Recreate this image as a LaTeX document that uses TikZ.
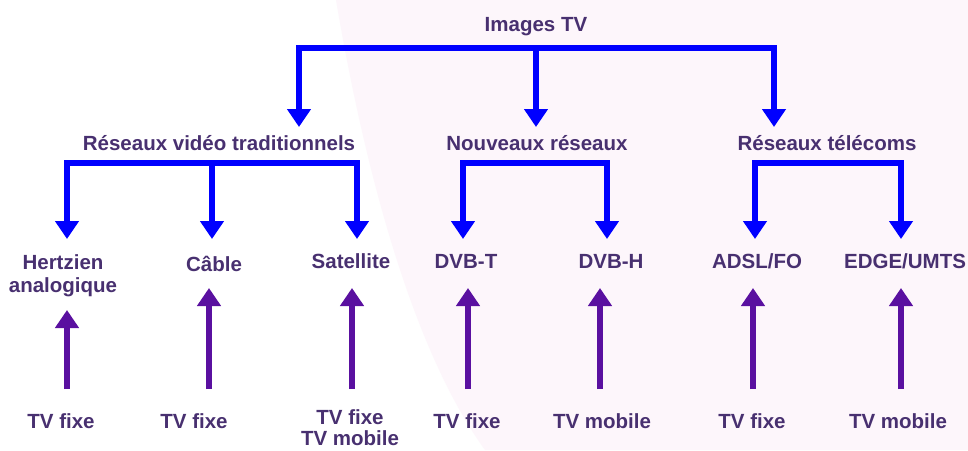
\documentclass[tikz,border=0pt]{standalone}
\usepackage{fontspec}
\setmainfont{Liberation Sans}
\usetikzlibrary{arrows.meta}
\definecolor{txt}{RGB}{72,48,112}
\definecolor{barblue}{RGB}{0,0,255}
\definecolor{upviolet}{RGB}{90,16,160}
\definecolor{bgpink}{RGB}{253,246,251}
\begin{document}
\begin{tikzpicture}[x=1pt,y=-1pt,
  lbl/.style={font=\bfseries\fontsize{20.5}{23}\selectfont, text=txt, align=center, inner sep=0pt, anchor=base},
  tree/.style={draw=barblue, line width=6pt, -{Triangle[width=23pt,length=18pt]}},
  feed/.style={draw=upviolet, line width=6pt, -{Triangle[width=23pt,length=18pt]}}]
\useasboundingbox (0,0) rectangle (968,450);
% background
\fill[white] (0,0) rectangle (968,450);
\fill[bgpink] (336,0) .. controls (370,200) and (420,360) .. (485,450) -- (968,450) -- (968,0) -- cycle;

% level 1
\node[lbl] (img) at (536,31) {Images TV};
% level 2
\node[lbl] (trad) at (219,150) {Réseaux vidéo traditionnels};
\node[lbl] (nouv) at (537,150) {Nouveaux réseaux};
\node[lbl] (tele) at (827,150) {Réseaux télécoms};
% level 3
\node[lbl,anchor=center] (hertz) at (63,276) {Hertzien\\analogique};
\node[lbl] (cable) at (214,271) {Câble};
\node[lbl] (sat) at (351,268) {Satellite};
\node[lbl] (dvbt) at (466,268) {DVB-T};
\node[lbl] (dvbh) at (611,268) {DVB-H};
\node[lbl] (adsl) at (757,268) {ADSL/FO};
\node[lbl] (edge) at (905,268) {EDGE/UMTS};
% bottom
\node[lbl] (f1) at (61,428) {TV fixe};
\node[lbl] (f2) at (194,428) {TV fixe};
\node[lbl,anchor=center,font=\bfseries\fontsize{20.5}{21}\selectfont] (f3) at (350,428) {TV fixe\\TV mobile};
\node[lbl] (f4) at (467,428) {TV fixe};
\node[lbl] (f5) at (602,428) {TV mobile};
\node[lbl] (f6) at (752,428) {TV fixe};
\node[lbl] (f7) at (898,428) {TV mobile};

% level 1 bracket
\coordinate (hubA) at (536,48);
\coordinate (tA1) at (299,127);
\coordinate (tA2) at (536,127);
\coordinate (tA3) at (774,127);
\draw[tree] (hubA) -| (tA1);
\draw[tree] (hubA) -| (tA3);
\draw[tree] (hubA) -- (tA2);

% traditional bracket
\coordinate (hubT) at (212,163);
\coordinate (tT1) at (67,239);
\coordinate (tT2) at (212,239);
\coordinate (tT3) at (357,239);
\draw[tree] (hubT) -| (tT1);
\draw[tree] (hubT) -| (tT3);
\draw[tree] (hubT) -- (tT2);

% nouveaux bracket
\coordinate (hubN) at (535,163);
\coordinate (tN1) at (463,239);
\coordinate (tN2) at (607,239);
\draw[tree] (hubN) -| (tN1);
\draw[tree] (hubN) -| (tN2);

% telecom bracket
\coordinate (hubC) at (828,163);
\coordinate (tC1) at (755,239);
\coordinate (tC2) at (901,239);
\draw[tree] (hubC) -| (tC1);
\draw[tree] (hubC) -| (tC2);

% upward feed arrows
\coordinate (s1) at (67,389);  \coordinate (e1) at (67,310);
\coordinate (s2) at (209,389); \coordinate (e2) at (209,288);
\coordinate (s3) at (352,389); \coordinate (e3) at (352,288);
\coordinate (s4) at (468,389); \coordinate (e4) at (468,288);
\coordinate (s5) at (600,389); \coordinate (e5) at (600,288);
\coordinate (s6) at (753,389); \coordinate (e6) at (753,288);
\coordinate (s7) at (901,389); \coordinate (e7) at (901,288);
\foreach \i in {1,...,7} {\draw[feed] (s\i) -- (e\i);}
\end{tikzpicture}
\end{document}
